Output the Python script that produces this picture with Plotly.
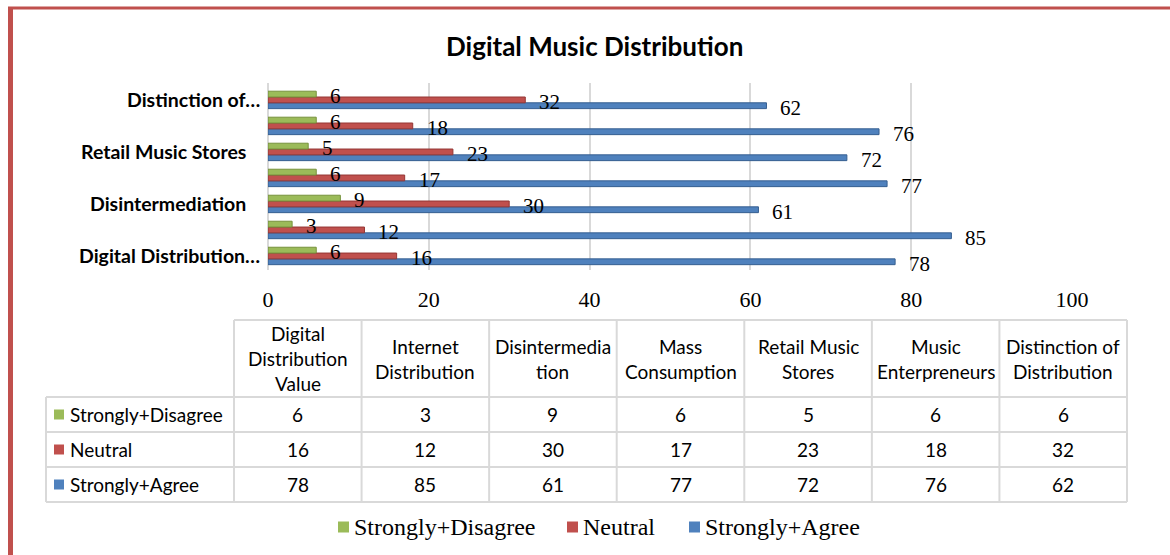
import plotly.graph_objects as go

# ---- data -------------------------------------------------------------
categories = [
    "Digital Distribution Value",
    "Internet Distribution",
    "Disintermediation",
    "Mass Consumption",
    "Retail Music Stores",
    "Music Enterpreneurs",
    "Distinction of Distribution",
]
# category labels printed on the value axis (every second one, truncated)
axis_labels = ["Digital Distribution…", "", "Disintermediation", "",
               "Retail Music Stores", "", "Distinction of…"]
# wrapped column headings of the data table
header_lines = [
    ["Digital", "Distribution", "Value"],
    ["Internet", "Distribution"],
    ["Disintermedia", "tion"],
    ["Mass", "Consumption"],
    ["Retail Music", "Stores"],
    ["Music", "Enterpreneurs"],
    ["Distinction of", "Distribution"],
]
series_names = ["Strongly+Disagree", "Neutral", "Strongly+Agree"]
strongly_disagree = [6, 3, 9, 6, 5, 6, 6]
neutral = [16, 12, 30, 17, 23, 18, 32]
strongly_agree = [78, 85, 61, 77, 72, 76, 62]
x_ticks = [0, 20, 40, 60, 80, 100]

series_values = {
    "Strongly+Disagree": strongly_disagree,
    "Neutral": neutral,
    "Strongly+Agree": strongly_agree,
}
fill = {"Strongly+Disagree": "#9BBB59", "Neutral": "#C0504D", "Strongly+Agree": "#4F81BD"}
edge = {"Strongly+Disagree": "#76923C", "Neutral": "#943634", "Strongly+Agree": "#365F91"}

# ---- geometry helpers (page pixels -> paper coordinates) ---------------
W, H = 1170, 555
L, R, T, B = 268, 1072, 83, 270


def px(x):
    return (x - L) / (R - L)


def py(y):
    return (B - y) / (B - T)


SANS = "Lato, Calibri, 'Open Sans', sans-serif"
SERIF = "'Liberation Serif', 'Times New Roman', serif"
GRID = "#D9D9D9"

bargap = 0.33
bar_w = (1 - bargap) / 3
ypos = list(range(len(categories)))

fig = go.Figure()

# bottom-to-top inside each group: Agree, Neutral, Disagree
draw_order = ["Strongly+Agree", "Neutral", "Strongly+Disagree"]
annotations = []
for k, name in enumerate(draw_order):
    vals = series_values[name]
    fig.add_trace(go.Bar(
        name=name, orientation="h", x=vals, y=ypos,
        marker=dict(color=fill[name], line=dict(color=edge[name], width=1)),
        showlegend=False, hoverinfo="x+name",
    ))
    off = (k - 1) * bar_w
    for i, v in enumerate(vals):
        annotations.append(dict(
            x=v, y=i + off, xref="x", yref="y", text=str(v), showarrow=False,
            xanchor="left", yanchor="middle", xshift=12, yshift=-2,
            font=dict(family=SERIF, size=21, color="#000000"),
        ))

# category labels on the left
for i, lab in enumerate(axis_labels):
    if not lab:
        continue
    shift = -6 if lab.endswith("…") else -20
    annotations.append(dict(
        x=0, y=i, xref="paper", yref="y", text=lab, showarrow=False,
        xanchor="right", yanchor="middle", xshift=shift,
        font=dict(family=SANS, size=19.5, color="#000000", weight="bold"),
    ))

# title
annotations.append(dict(
    x=px(594), y=py(46), xref="paper", yref="paper", text="Digital Music Distribution",
    showarrow=False, xanchor="center", yanchor="middle",
    font=dict(family=SANS, size=26, color="#000000", weight="bold"),
))

shapes = []

# ---- data table ---------------------------------------------------------
col_x = [234 + j * (1127 - 234) / 7 for j in range(8)]
row_y = [320, 397, 432, 467, 502]
label_left = 46
line = dict(color=GRID, width=2)
TABLE_FONT = dict(family=SANS, size=19, color="#000000")

# horizontal rules
shapes.append(dict(type="line", xref="paper", yref="paper",
                   x0=px(col_x[0]), x1=px(col_x[-1]), y0=py(row_y[0]), y1=py(row_y[0]), line=line))
for yy in row_y[1:]:
    shapes.append(dict(type="line", xref="paper", yref="paper",
                       x0=px(label_left), x1=px(col_x[-1]), y0=py(yy), y1=py(yy), line=line))
# vertical rules
for xx in col_x:
    shapes.append(dict(type="line", xref="paper", yref="paper",
                       x0=px(xx), x1=px(xx), y0=py(row_y[0]), y1=py(row_y[-1]), line=line))
shapes.append(dict(type="line", xref="paper", yref="paper",
                   x0=px(label_left), x1=px(label_left), y0=py(row_y[1]), y1=py(row_y[-1]), line=line))

# column headings
line_gap = 25
head_mid = (row_y[0] + row_y[1]) / 2
for j, lines in enumerate(header_lines):
    cx = (col_x[j] + col_x[j + 1]) / 2
    n = len(lines)
    for m, t in enumerate(lines):
        yy = head_mid + (m - (n - 1) / 2) * line_gap
        annotations.append(dict(
            x=px(cx), y=py(yy), xref="paper", yref="paper", text=t, showarrow=False,
            xanchor="center", yanchor="middle", font=TABLE_FONT,
        ))

# rows: legend key + values
for r, name in enumerate(series_names):
    top, bot = row_y[r + 1], row_y[r + 2]
    mid = (top + bot) / 2
    shapes.append(dict(type="rect", xref="paper", yref="paper",
                       x0=px(54), x1=px(64), y0=py(mid - 5), y1=py(mid + 5),
                       fillcolor=fill[name], line=dict(width=0)))
    annotations.append(dict(
        x=px(68), y=py(mid), xref="paper", yref="paper", text=name, showarrow=False,
        xanchor="left", yanchor="middle", font=TABLE_FONT,
    ))
    for j, v in enumerate(series_values[name]):
        cx = (col_x[j] + col_x[j + 1]) / 2
        annotations.append(dict(
            x=px(cx), y=py(mid), xref="paper", yref="paper", text=str(v), showarrow=False,
            xanchor="center", yanchor="middle", font=TABLE_FONT,
        ))

# ---- legend -------------------------------------------------------------
legend_items = [("Strongly+Disagree", 338), ("Neutral", 567), ("Strongly+Agree", 689)]
leg_y = 527
for name, x0 in legend_items:
    shapes.append(dict(type="rect", xref="paper", yref="paper",
                       x0=px(x0), x1=px(x0 + 11), y0=py(leg_y - 5.5), y1=py(leg_y + 5.5),
                       fillcolor=fill[name], line=dict(width=0)))
    annotations.append(dict(
        x=px(x0 + 14), y=py(leg_y), xref="paper", yref="paper", text=name, showarrow=False,
        xanchor="left", yanchor="middle",
        font=dict(family=SERIF, size=24, color="#000000"),
    ))

# ---- chart frame ----------------------------------------------------------
frame = "#C0504D"
shapes.append(dict(type="line", xref="paper", yref="paper",
                   x0=px(10.5), x1=px(10.5), y0=py(7), y1=py(560), line=dict(color=frame, width=5)))
shapes.append(dict(type="line", xref="paper", yref="paper",
                   x0=px(8), x1=px(1175), y0=py(8), y1=py(8), line=dict(color=frame, width=3)))

fig.update_layout(
    width=W, height=H,
    margin=dict(l=L, r=W - R, t=T, b=H - B, autoexpand=False),
    paper_bgcolor="#FFFFFF", plot_bgcolor="#FFFFFF",
    barmode="group", bargap=bargap, bargroupgap=0,
    xaxis=dict(
        range=[0, 100], tickvals=x_ticks, ticks="", showline=False,
        showgrid=True, gridcolor=GRID, gridwidth=2,
        zeroline=True, zerolinecolor=GRID, zerolinewidth=2,
        tickfont=dict(family=SERIF, size=22, color="#000000"),
        ticklabelstandoff=14, fixedrange=True,
    ),
    yaxis=dict(
        range=[-0.54, 6.65], showticklabels=False, showgrid=False,
        zeroline=False, showline=False, fixedrange=True,
    ),
    annotations=annotations,
    shapes=shapes,
    showlegend=False,
)

fig.write_html("out.html")
